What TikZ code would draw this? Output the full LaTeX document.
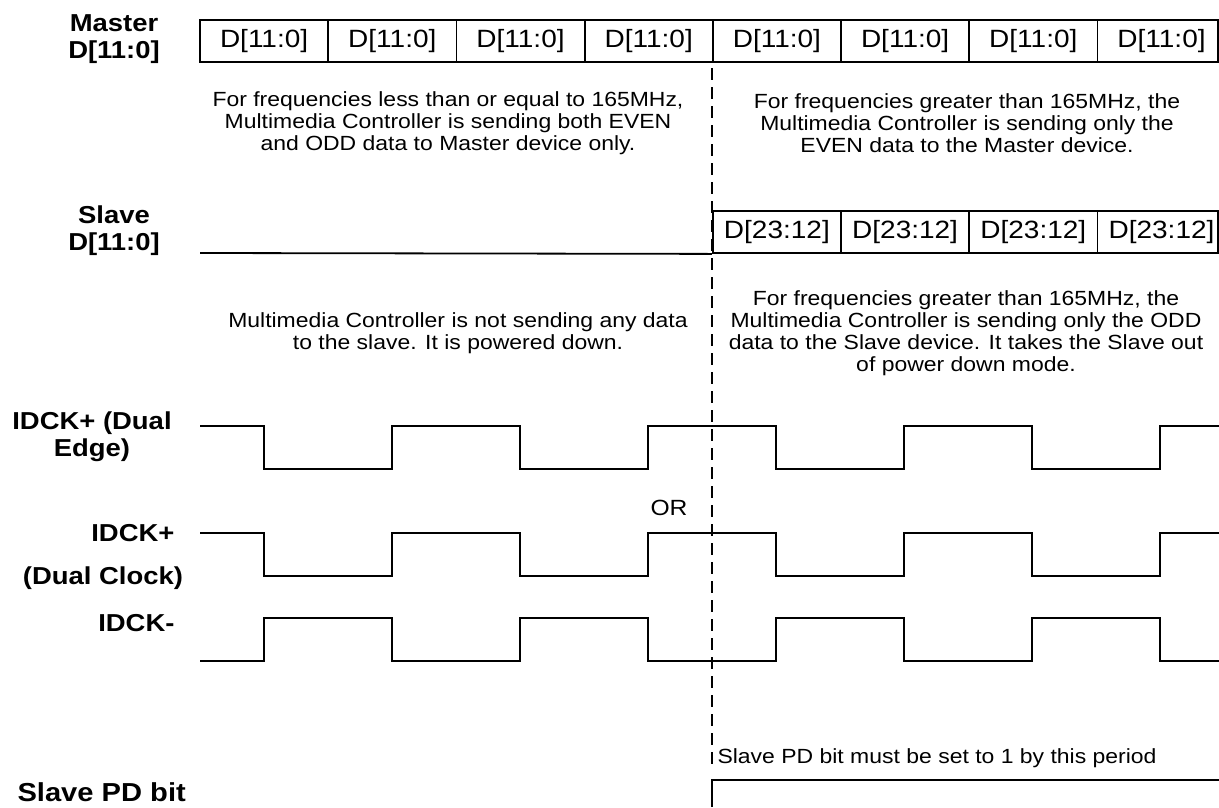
\documentclass[tikz,border=0pt]{standalone}
\usepackage{fontspec}
\setmainfont[FakeStretch=1.12]{Liberation Sans}
\tikzset{
  wave/.style={line width=1.8pt},
  cell/.style={draw, line width=1.8pt, minimum width=128.2pt, minimum height=42pt, inner sep=0pt, font=\fontsize{25}{28}\selectfont},
  signame/.style={font=\fontsize{24.5}{27}\selectfont\bfseries, align=center},
  note/.style={font=\fontsize{20.5}{22}\selectfont, align=center}
}
\begin{document}
\begin{tikzpicture}[x=1pt,y=-1pt]
	\useasboundingbox (0,0) rectangle (1219,807);
	% signal names
	\node[signame] (master) at (114,39) {Master\\D[11:0]};
	\node[signame] (slave) at (114,231) {Slave\\D[11:0]};
	\node[signame] (dualedge) at (92,437) {IDCK+ (Dual\\Edge)};
	\node[signame,anchor=east] (ckp) at (178,533) {IDCK+};
	\node[signame] (dualclock) at (103,578) {(Dual Clock)};
	\node[signame,anchor=east] (ckm) at (178,623) {IDCK-};
	\node[signame,anchor=west,font=\fontsize{26}{28}\selectfont\bfseries] (pd) at (14,792) {Slave PD bit};
	% data buses
	\foreach \i in {0,...,7} {
	\node[cell] (m\i) at ({264.1+128.2*\i},41) {D[11:0]};
	}
	\foreach \i in {4,...,7} {
	\node[cell] (s\i) at ({264.1+128.2*\i},232) {D[23:12]};
	}
	\draw[wave] (1218,20) -- (1218,62) (1218,211) -- (1218,253);
	\draw[wave] (200,253) -- (s4.south west);
	% notes
	\node[note] (mlow) at (448,123) {For frequencies less than or equal to 165MHz,\\Multimedia Controller is sending both EVEN\\and ODD data to Master device only.};
	\node[note] (mhigh) at (967,123) {For frequencies greater than 165MHz, the\\Multimedia Controller is sending only the\\EVEN data to the Master device.};
	\node[note] (slow) at (458,333) {Multimedia Controller is not sending any data\\to the slave. It is powered down.};
	\node[note] (shigh) at (966,333) {For frequencies greater than 165MHz, the\\Multimedia Controller is sending only the ODD\\data to the Slave device. It takes the Slave out\\of power down mode.};
	% clocks
	\draw[wave] (200,426) -- (264,426)
	  \foreach \x in {264,520,776} { -- (\x,469) -- (\x+128,469) -- (\x+128,426) -- (\x+256,426) }
	  -- (1032,469) -- (1160,469) -- (1160,426) -- (1219,426);
	\node[note,font=\fontsize{22}{24}\selectfont] (or) at (669,508) {OR};
	\draw[wave] (200,533) -- (264,533)
	  \foreach \x in {264,520,776} { -- (\x,576) -- (\x+128,576) -- (\x+128,533) -- (\x+256,533) }
	  -- (1032,576) -- (1160,576) -- (1160,533) -- (1219,533);
	\draw[wave] (200,661) -- (264,661)
	  \foreach \x in {264,520,776} { -- (\x,618) -- (\x+128,618) -- (\x+128,661) -- (\x+256,661) }
	  -- (1032,618) -- (1160,618) -- (1160,661) -- (1219,661);
	% boundary
	\coordinate (cuttop) at (712,68);
	\coordinate (cutbot) at (712,770);
	\draw[line width=2.2pt, dash pattern=on 12pt off 7pt] (cuttop) -- (cutbot);
	\draw[wave] (712,807) -- (712,780) -- (1219,780);
	\node[note,anchor=west] (pdnote) at (714,758) {Slave PD bit must be set to 1 by this period};
\end{tikzpicture}
\end{document}
